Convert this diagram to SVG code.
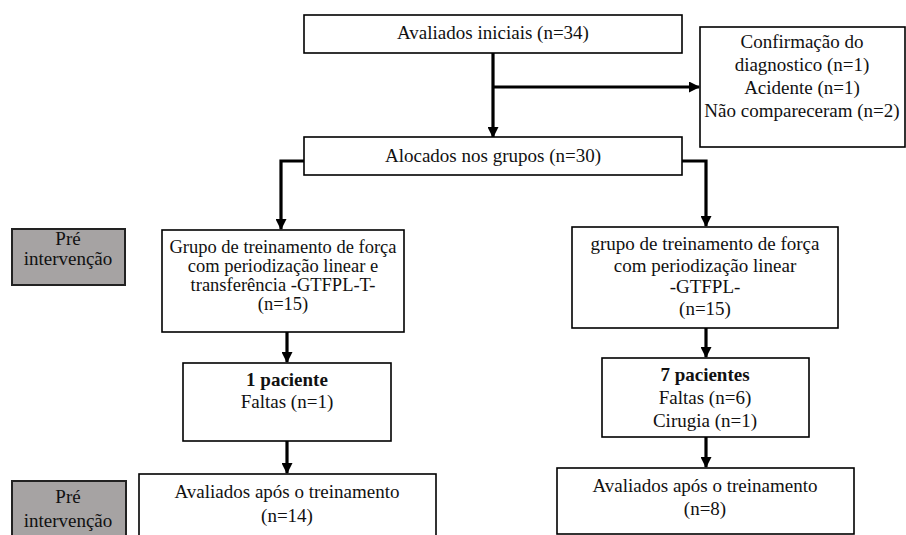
<svg xmlns="http://www.w3.org/2000/svg" width="906" height="535" viewBox="0 0 906 535" font-family="'Liberation Serif','Times New Roman',serif">
<defs>
<marker id="ah" markerWidth="11" markerHeight="11" refX="10" refY="5.5" orient="auto" markerUnits="userSpaceOnUse">
<path d="M0,0 L11,5.5 L0,11 Z" fill="#000"/>
</marker>
<style>
text{font-family:"Liberation Serif","Times New Roman",serif;font-size:19px;fill:#111;text-anchor:middle}
.b{font-weight:bold}
.t{font-size:18.5px}
.box{fill:#fff;stroke:#000;stroke-width:1.6}
.pre{fill:#a6a3a3;stroke:#222;stroke-width:2}
.c{fill:none;stroke:#000;stroke-width:3.2;marker-end:url(#ah)}
</style>
</defs>
<rect width="906" height="535" fill="#fff"/>
<g id="connectors">
<path class="c" d="M493,53 V137"/>
<path class="c" d="M493,87 H699"/>
<path class="c" d="M304,161 H281 V229"/>
<path class="c" d="M682,161 H706 V226"/>
<path class="c" d="M287,332 V362"/>
<path class="c" d="M706,328 V357"/>
<path class="c" d="M287,441 V473"/>
<path class="c" d="M706,437 V467"/>
</g>
<g id="avaliados-iniciais">
<rect class="box" x="304" y="15" width="378" height="38"/>
<text x="493" y="39">Avaliados iniciais (n=34)</text>
</g>
<g id="exclusoes">
<rect class="box" x="700" y="27" width="205" height="120"/>
<text x="802" y="48">Confirmação do</text>
<text x="802" y="71">diagnostico (n=1)</text>
<text x="802" y="94">Acidente (n=1)</text>
<text x="802" y="117">Não compareceram (n=2)</text>
</g>
<g id="alocados">
<rect class="box" x="304" y="137" width="378" height="38"/>
<text x="493" y="162">Alocados nos grupos (n=30)</text>
</g>
<g id="pre1">
<rect class="pre" x="12" y="229" width="113" height="56"/>
<text x="68" y="245">Pré</text>
<text x="68" y="265">intervenção</text>
</g>
<g id="gtfpl-t">
<rect class="box" x="162" y="230" width="242" height="102"/>
<text class="t" x="283" y="253">Grupo de treinamento de força</text>
<text class="t" x="283" y="272">com periodização linear e</text>
<text class="t" x="283" y="291">transferência -GTFPL-T-</text>
<text class="t" x="283" y="310">(n=15)</text>
</g>
<g id="gtfpl">
<rect class="box" x="572" y="227" width="266" height="101"/>
<text x="705" y="250">grupo de treinamento de força</text>
<text x="705" y="272">com periodização linear</text>
<text x="705" y="293">-GTFPL-</text>
<text x="705" y="315">(n=15)</text>
</g>
<g id="perda-1">
<rect class="box" x="183" y="363" width="208" height="78"/>
<text class="b" x="287" y="386">1 paciente</text>
<text x="287" y="408">Faltas (n=1)</text>
</g>
<g id="perda-7">
<rect class="box" x="602" y="358" width="207" height="79"/>
<text class="b" x="705" y="381">7 pacientes</text>
<text x="705" y="404">Faltas (n=6)</text>
<text x="705" y="427">Cirugia (n=1)</text>
</g>
<g id="pre2">
<rect class="pre" x="12" y="481" width="114" height="70"/>
<text x="68" y="503">Pré</text>
<text x="68" y="527">intervenção</text>
</g>
<g id="final-t">
<rect class="box" x="139" y="474" width="297" height="70"/>
<text x="287" y="498">Avaliados após o treinamento</text>
<text x="287" y="522">(n=14)</text>
</g>
<g id="final">
<rect class="box" x="557" y="468" width="297" height="66"/>
<text x="705" y="492">Avaliados após o treinamento</text>
<text x="705" y="515">(n=8)</text>
</g>
</svg>
